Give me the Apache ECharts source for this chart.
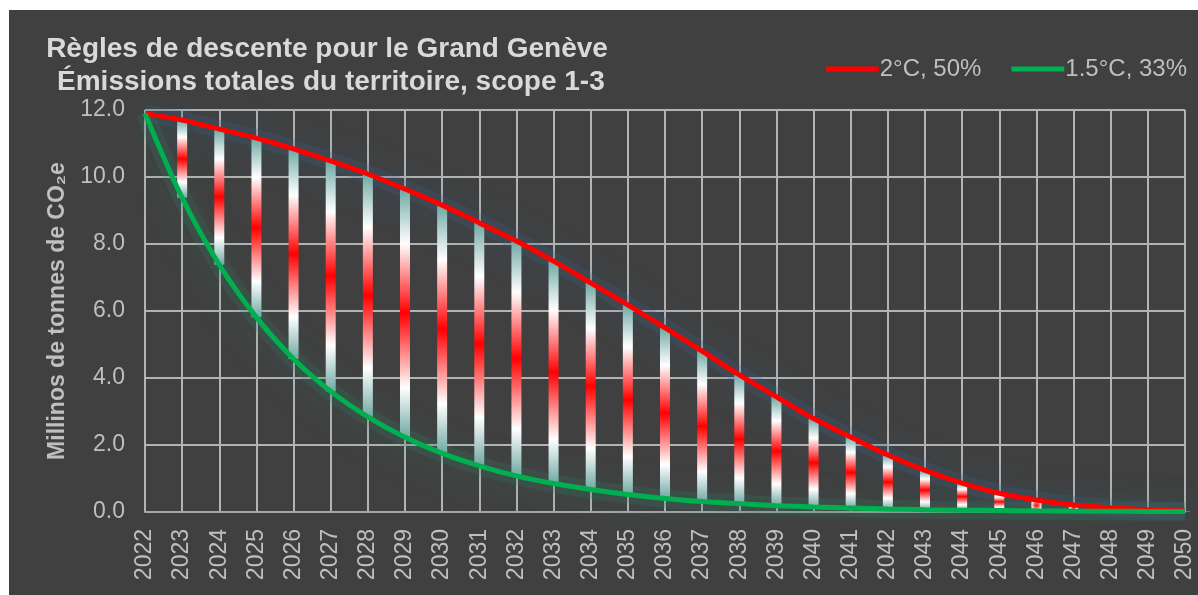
<!DOCTYPE html>
<html>
<head>
<meta charset="utf-8">
<script src="https://cdn.jsdelivr.net/npm/echarts@6/dist/echarts.min.js"></script>
<style>
  html, body { margin: 0; padding: 0; background: #ffffff; }
  #chart { position: absolute; left: 9px; top: 10px; width: 1189px; height: 585px; }
</style>
</head>
<body>
<div id="chart"></div>
<script>
// années
var years = ['2022','2023','2024','2025','2026','2027','2028','2029','2030','2031',
  '2032','2033','2034','2035','2036','2037','2038','2039','2040','2041',
  '2042','2043','2044','2045','2046','2047','2048','2049','2050'];
// trajectoire 2°C, 50%
var path2C = [11.90, 11.70, 11.43, 11.16, 10.84, 10.48, 10.09, 9.64, 9.16, 8.63,
  8.09, 7.49, 6.84, 6.18, 5.50, 4.80, 4.09, 3.44, 2.79, 2.24,
  1.70, 1.24, 0.86, 0.56, 0.36, 0.21, 0.13, 0.07, 0.03];
// trajectoire 1.5°C, 33%
var path15C = [11.90, 9.38, 7.38, 5.81, 4.57, 3.60, 2.84, 2.23, 1.75, 1.38,
  1.08, 0.85, 0.67, 0.52, 0.40, 0.31, 0.25, 0.19, 0.15, 0.12,
  0.09, 0.07, 0.055, 0.045, 0.035, 0.028, 0.022, 0.017, 0.013];
var yTicks = [0, 2, 4, 6, 8, 10, 12];

var teal = '#6fa8a3';
var txt = '#bfbfbf';
var font = 'Liberation Sans, Arial, sans-serif';

// barres flottantes : base transparente + écart entre les deux trajectoires
var gapData = path2C.map(function (v, i) {
  var d = +(v - path15C[i]).toFixed(3);
  var color;
  if (d < 0.5) {
    color = new echarts.graphic.RadialGradient(0.5, 0.5, 0.8, [
      { offset: 0, color: '#ff0000' },
      { offset: 0.35, color: '#ff7070' },
      { offset: 0.65, color: '#ffffff' },
      { offset: 1, color: teal }
    ]);
  } else {
    color = new echarts.graphic.LinearGradient(0, 0, 0, 1, [
      { offset: 0, color: teal },
      { offset: 0.22, color: '#ffffff' },
      { offset: 0.5, color: '#ff0000' },
      { offset: 0.8, color: '#ffffff' },
      { offset: 1, color: teal }
    ]);
  }
  return { value: d, itemStyle: { color: color } };
});

// halo doux sous chaque courbe
function glow(data, color, blurColor) {
  return {
    type: 'line',
    data: data,
    smooth: 0.35,
    showSymbol: false,
    symbol: 'none',
    silent: true,
    lineStyle: {
      color: color,
      width: 18,
      shadowColor: blurColor,
      shadowBlur: 34,
      shadowOffsetY: 5
    },
    z: 2
  };
}

var chart = echarts.init(document.getElementById('chart'));
chart.setOption({
  backgroundColor: '#404040',
  animation: false,
  title: {
    text: 'Règles de descente pour le Grand Genève\n Émissions totales du territoire, scope 1-3',
    left: 313,
    top: 18,
    textAlign: 'center',
    textStyle: {
      color: '#d9d9d9',
      fontFamily: font,
      fontWeight: 'bold',
      fontSize: 28,
      lineHeight: 33
    }
  },
  legend: {
    top: 42,
    right: 6,
    icon: 'roundRect',
    itemWidth: 53,
    itemHeight: 5,
    itemGap: 30,
    data: ['2°C, 50%', '1.5°C, 33%'],
    textStyle: {
      color: txt,
      fontFamily: font,
      fontSize: 24,
      padding: [0, 0, 0, -4]
    }
  },
  grid: { left: 136, right: 13, top: 100, bottom: 83 },
  xAxis: {
    type: 'category',
    data: years,
    boundaryGap: false,
    axisLine: { lineStyle: { color: '#a6a6a6', width: 2 } },
    axisTick: { show: false },
    splitLine: { show: true, interval: 0, lineStyle: { color: '#b3b3b3', width: 2 } },
    axisLabel: {
      interval: 0,
      rotate: 90,
      margin: 17,
      color: txt,
      fontFamily: font,
      fontSize: 23
    }
  },
  yAxis: {
    type: 'value',
    min: yTicks[0],
    max: yTicks[yTicks.length - 1],
    interval: 2,
    name: 'Millinos de tonnes de CO₂e',
    nameLocation: 'middle',
    nameGap: 76,
    nameTextStyle: {
      color: txt,
      fontFamily: font,
      fontWeight: 'bold',
      fontSize: 23
    },
    axisLine: { show: false },
    axisTick: { show: false },
    splitLine: { lineStyle: { color: '#b3b3b3', width: 2 } },
    axisLabel: {
      margin: 20,
      color: txt,
      fontFamily: font,
      fontSize: 23,
      formatter: function (v) { return v.toFixed(1); }
    }
  },
  series: [
    glow(path2C, 'rgba(55,95,130,0.22)', 'rgba(55,105,150,0.85)'),
    glow(path15C, 'rgba(50,130,100,0.2)', 'rgba(45,140,105,0.75)'),
    {
      name: 'base',
      type: 'bar',
      stack: 'gap',
      barWidth: 10,
      data: path15C,
      itemStyle: { color: 'rgba(0,0,0,0)' },
      silent: true,
      z: 3
    },
    {
      name: 'écart',
      type: 'bar',
      stack: 'gap',
      barWidth: 10,
      data: gapData,
      z: 3
    },
    {
      name: '2°C, 50%',
      type: 'line',
      data: path2C,
      smooth: 0.35,
      showSymbol: false,
      symbol: 'none',
      color: '#ff0000',
      lineStyle: { color: '#ff0000', width: 5 },
      z: 4
    },
    {
      name: '1.5°C, 33%',
      type: 'line',
      data: path15C,
      smooth: 0.35,
      showSymbol: false,
      symbol: 'none',
      color: '#00b050',
      lineStyle: { color: '#00b050', width: 5 },
      z: 5
    }
  ]
});
</script>
</body>
</html>
